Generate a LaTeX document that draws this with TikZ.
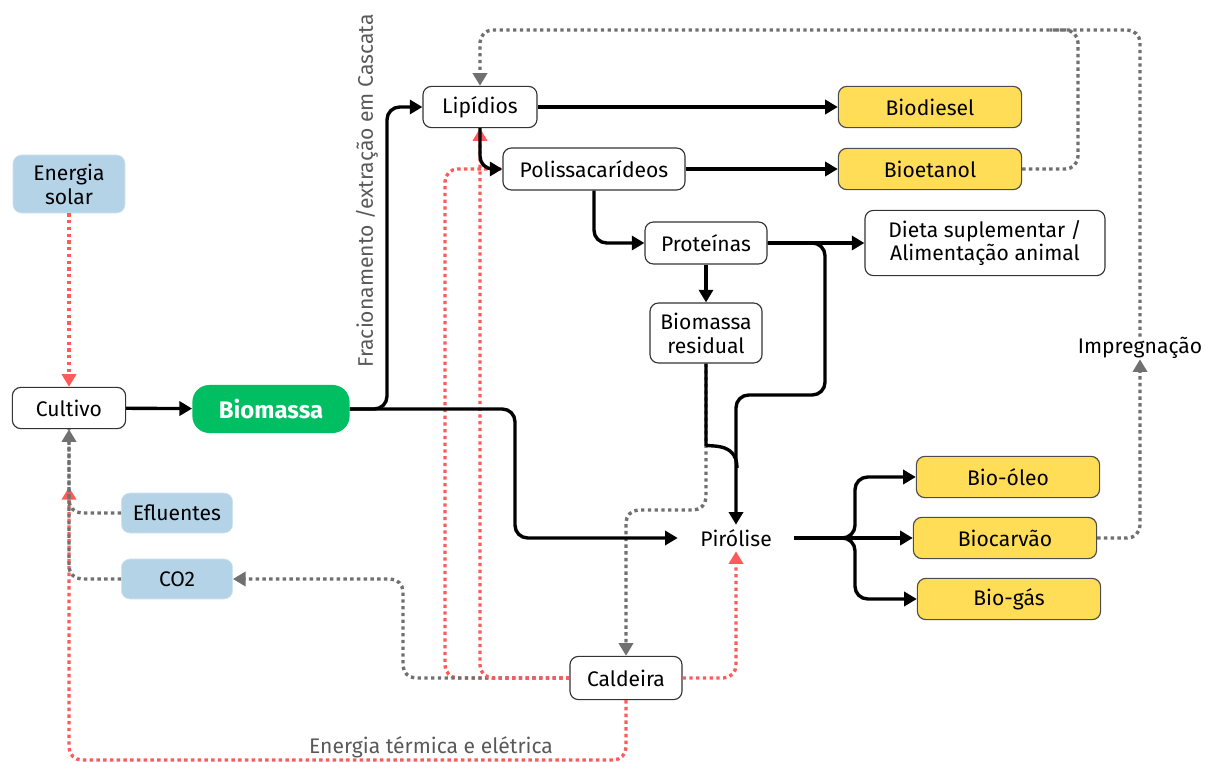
\documentclass[tikz,border=0pt]{standalone}
\usepackage{fontspec}
\setmainfont{Fira Sans}
\usepackage{tikz}
\usetikzlibrary{arrows.meta, calc, positioning}

\definecolor{azul}{HTML}{B4D3E7}
\definecolor{amarelo}{HTML}{FFDD57}
\definecolor{verde}{HTML}{00BF63}
\definecolor{vermelho}{HTML}{FF5A5A}
\definecolor{cinza}{HTML}{707070}

\tikzset{
	caixa/.style={draw=black!80, line width=0.8pt, fill=white, rounded corners=6pt, align=center, inner sep=0pt},
	produto/.style={caixa, fill=amarelo, draw=black!70, minimum width=4.58cm, minimum height=1.03cm},
	insumo/.style={draw=azul!60, fill=azul, rounded corners=6pt, align=center, inner sep=0pt},
	ponta/.style={-{Triangle[length=9pt,width=10pt]}},
	seta/.style={ponta, line width=2.4pt, rounded corners=9pt},
	linha/.style={line width=2.4pt, rounded corners=9pt},
	pontoc/.style={draw=cinza, line width=2.4pt, dash pattern=on 2.4pt off 2.4pt, rounded corners=9pt},
	pontov/.style={draw=vermelho, line width=2.4pt, dash pattern=on 2.4pt off 2.4pt, rounded corners=9pt}
}

\begin{document}
\begin{tikzpicture}[x=0.025cm, y=-0.025cm, font=\fontsize{15}{17}\selectfont]
	\useasboundingbox (0,0) rectangle (1205,762);

	\node(solar) [insumo, minimum width=2.8cm, minimum height=1.45cm] at (69,184) {Energia\\solar};
	\node(cultivo) [caixa, minimum width=2.83cm, minimum height=1.03cm] at (69,408) {Cultivo};
	\node(biomassa) [fill=verde, rounded corners=12pt, text=white, inner sep=0pt, minimum width=3.93cm, minimum height=1.2cm, font=\fontsize{17}{19}\selectfont\bfseries] at (271,409) {Biomassa};
	\node(efluentes) [insumo, minimum width=2.78cm, minimum height=1.0cm] at (177,513) {Efluentes};
	\node(co2) [insumo, minimum width=2.78cm, minimum height=1.0cm] at (177,579) {CO2};

	\node(lipidios) [caixa, minimum width=2.85cm, minimum height=1.03cm] at (480,107) {Lipídios};
	\node(polis) [caixa, minimum width=4.55cm, minimum height=1.05cm] at (594,169) {Polissacarídeos};
	\node(proteinas) [caixa, minimum width=3.05cm, minimum height=1.05cm] at (706,243) {Proteínas};
	\node(residual) [caixa, minimum width=2.8cm, minimum height=1.5cm] at (706,333) {Biomassa\\residual};
	\node(dieta) [caixa, minimum width=6.0cm, minimum height=1.63cm] at (985,243) {Dieta suplementar /\\Alimentação animal};

	\node(biodiesel) [produto] at (930,107) {Biodiesel};
	\node(bioetanol) [produto] at (930,169) {Bioetanol};

	\node(pirolise) [inner sep=0pt, minimum width=2.9cm, minimum height=0.65cm] at (736,538) {Pirólise};
	\node(oleo) [produto] at (1008,477) {Bio-óleo};
	\node(carvao) [produto] at (1005,538) {Biocarvão};
	\node(gas) [produto] at (1009,599) {Bio-gás};

	\node(caldeira) [caixa, minimum width=2.8cm, minimum height=1.08cm] at (626,678) {Caldeira};
	\node(impreg) [inner sep=0pt, minimum height=0.55cm] at (1140,348) {Impregnação};
	\node(termica) [text=black!65] at (431,747) {Energia térmica e elétrica};
	\node(cascata) [text=black!65, rotate=90] at (367,191) {Fracionamento /extração em Cascata};
	\coordinate(entrada) at (69,487);

	% fluxos de energia e reciclo
	\draw[pontov, ponta, vermelho] (solar) -- (cultivo);
	\draw[pontov, ponta, vermelho] (caldeira.south) -- (626,760) -| (entrada);
	\draw[pontov, ponta, vermelho] (caldeira.east) -| (pirolise.south);
	\draw[pontov] (caldeira.west) -- (445,678) -- (445,169) -- (polis.west);
	\draw[pontoc, ponta, cinza] (caldeira.west) -- (403,678) |- (co2.east);
	\draw[pontov, ponta, vermelho] (caldeira.west) -| (lipidios.south);
	\draw[pontoc] (co2.west) -| (cultivo.south);
	\draw[pontoc, ponta, cinza] (efluentes.west) -| (cultivo.south);
	\draw[pontoc, ponta, cinza] (residual.south) -- (706,510) -| (caldeira.north);
	\draw[pontoc, ponta, cinza] (carvao.east) -| (impreg.south);
	\draw[pontoc, ponta, cinza] (impreg.north) -- (1140,30) -| (lipidios.north);
	\draw[pontoc] (bioetanol.east) -- (1078,169) -- (1078,30) -- (1050,30);

	% cascata
	\draw[seta] (cultivo) -- (biomassa);
	\draw[seta] (biomassa.east) -- (387,409) |- (lipidios.west);
	\draw[seta] (biomassa.east) -- (515,409) |- (pirolise.west);
	\draw[seta] (lipidios) -- (biodiesel);
	\draw[seta] (lipidios.south) |- (polis.west);
	\draw[seta] (polis) -- (bioetanol);
	\draw[seta] (polis.south) |- (proteinas.west);
	\draw[seta] (proteinas) -- (dieta);
	\draw[seta] (proteinas) -- (residual);
	\draw[seta] (proteinas.east) -- (825,243) -- (825,395) -| (pirolise.north);
	\draw[linha] (residual.south) -- (706,432) .. controls (706,448) and (737,440) .. (737,468);
	\draw[seta] (pirolise.east) -- (855,538) |- (oleo.west);
	\draw[seta] (pirolise.east) -- (carvao.west);
	\draw[seta] (pirolise.east) -- (855,538) |- (gas.west);
\end{tikzpicture}
\end{document}
